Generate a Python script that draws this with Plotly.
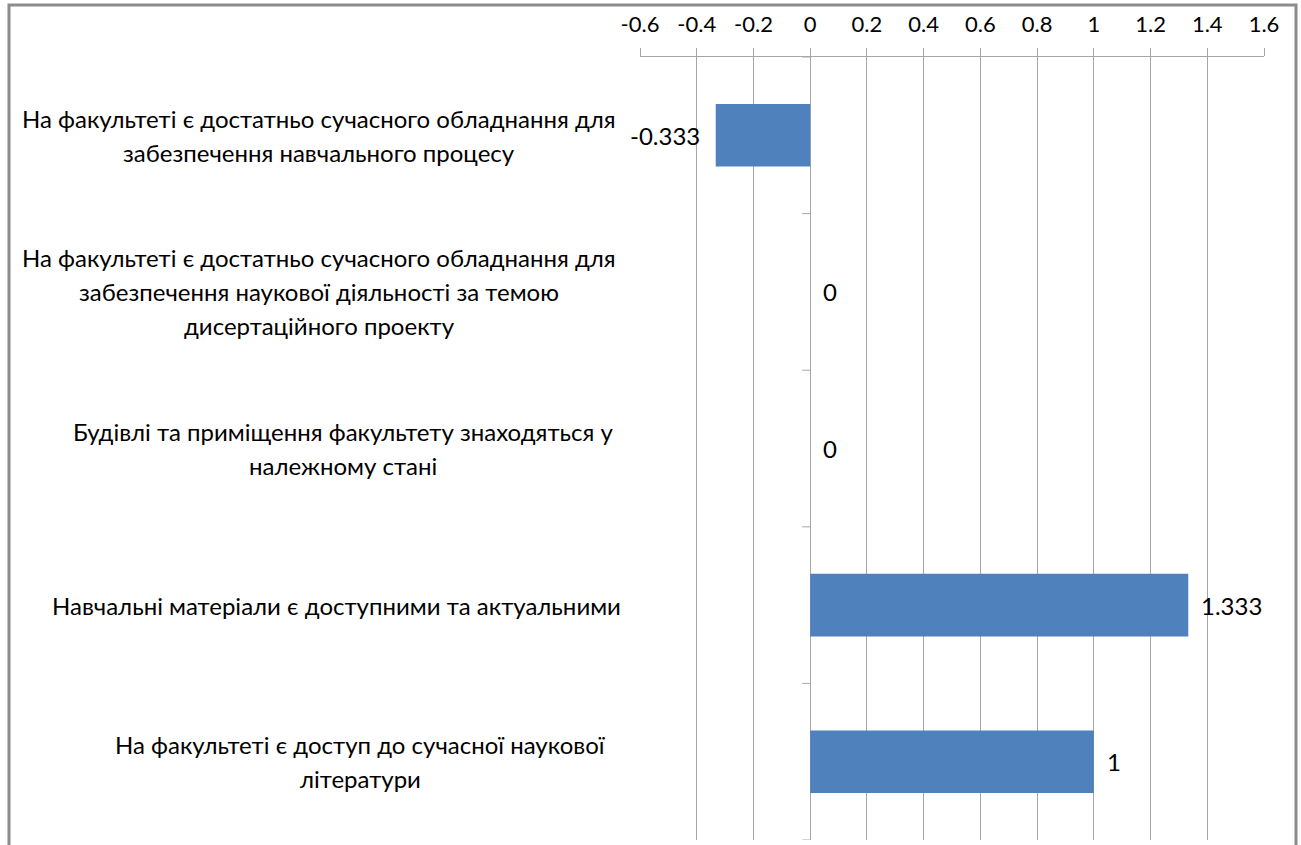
import plotly.graph_objects as go

categories = [
    "На факультеті є достатньо сучасного обладнання для<br>забезпечення навчального процесу",
    "На факультеті є достатньо сучасного обладнання для<br>забезпечення наукової діяльності за темою<br>дисертаційного проекту",
    "Будівлі та приміщення факультету знаходяться у<br>належному стані",
    "Навчальні матеріали є доступними та актуальними",
    "На факультеті є доступ до сучасної наукової<br>літератури",
]
values = [-0.333, 0, 0, 1.333, 1]
value_labels = ["-0.333", "0", "0", "1.333", "1"]
tick_vals = [-0.6, -0.4, -0.2, 0, 0.2, 0.4, 0.6, 0.8, 1, 1.2, 1.4, 1.6]
tick_text = ["-0.6", "-0.4", "-0.2", "0", "0.2", "0.4", "0.6", "0.8", "1", "1.2", "1.4", "1.6"]

FONT = "Lato"
GRID = "#a6a6a6"
W, H = 1301, 845
L, R, T, B = 640, 37, 57, 5
LINE_STEP = 34
CHAR_W = 11.8      # approx. average glyph advance of the label font, px
LABEL_GAP = 26     # gap between label block and plot area, px

fig = go.Figure()
fig.add_trace(go.Bar(
    x=values, y=list(range(len(categories))), orientation="h",
    marker=dict(color="#4f81bd", line=dict(width=0)),
    width=0.4, hoverinfo="skip",
))

annotations = []
for i, (v, lab) in enumerate(zip(values, value_labels)):
    annotations.append(dict(
        x=v, y=i, xref="x", yref="y", text=lab, showarrow=False,
        xanchor="right" if v < 0 else "left",
        xshift=-14 if v < 0 else 11,
        font=dict(family=FONT, size=24, color="#000000"),
    ))
for i, c in enumerate(categories):
    lines = c.split("<br>")
    n = len(lines)
    block_w = max(len(s) for s in lines) * CHAR_W
    centre_shift = -LABEL_GAP - block_w / 2
    for j, ln in enumerate(lines):
        annotations.append(dict(
            x=0, y=i, xref="paper", yref="y", text=ln, showarrow=False,
            xanchor="center", xshift=centre_shift, align="center",
            yshift=((n - 1) / 2 - j) * LINE_STEP,
            font=dict(family=FONT, size=24, color="#000000"),
        ))

shapes = []
# category separator ticks on the value-zero axis
for k in range(len(categories) + 1):
    shapes.append(dict(
        type="line", xref="x", yref="y", xsizemode="pixel", xanchor=0,
        x0=-8, x1=0, y0=k - 0.5, y1=k - 0.5,
        line=dict(color=GRID, width=1),
    ))
# chart border
pw = W - L - R
ph = H - T - B
shapes.append(dict(
    type="rect", xref="paper", yref="paper",
    x0=(9 - L) / pw, x1=(1296 - L) / pw,
    y0=(H - B - 860) / ph, y1=(H - B - 5) / ph,
    line=dict(color="#8c8c8c", width=3), fillcolor="rgba(0,0,0,0)", layer="below",
))

fig.update_layout(
    width=W, height=H,
    margin=dict(l=L, r=R, t=T, b=B),
    paper_bgcolor="white", plot_bgcolor="white",
    showlegend=False,
    annotations=annotations, shapes=shapes,
    xaxis=dict(
        side="top", range=[-0.6, 1.6], tickvals=tick_vals, ticktext=tick_text,
        showgrid=True, gridcolor=GRID, gridwidth=1, zeroline=False,
        showline=True, linecolor=GRID, linewidth=1,
        ticks="outside", ticklen=8, tickcolor=GRID, ticklabelstandoff=7,
        tickfont=dict(family=FONT, size=22, color="#000000"),
    ),
    yaxis=dict(
        range=[4.5, -0.5], showticklabels=False, showgrid=False,
        zeroline=False, showline=False, ticks="",
    ),
)

fig.write_html("out.html", config={"displayModeBar": False},
               post_script="document.body.style.margin='0';")
